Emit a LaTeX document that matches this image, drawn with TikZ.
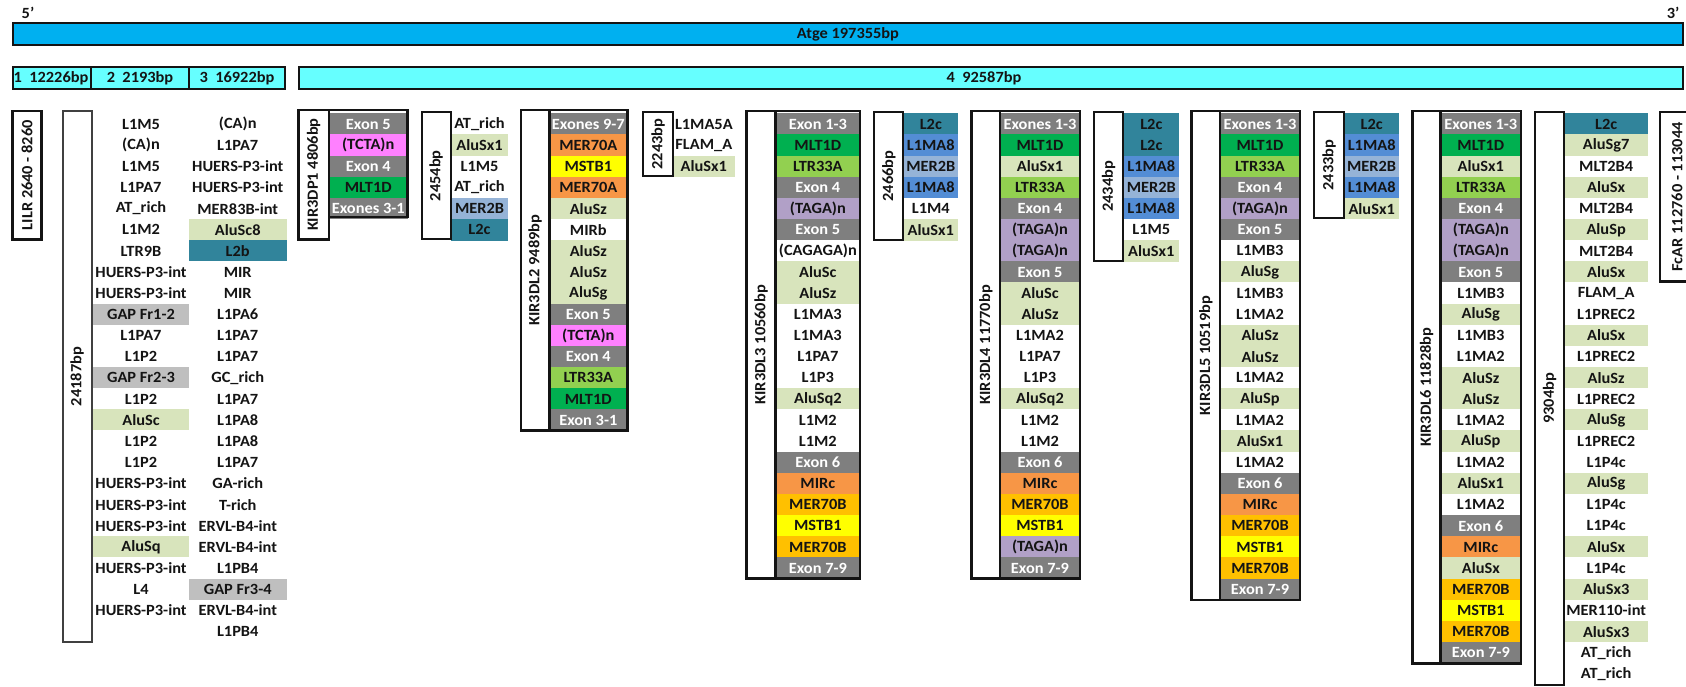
\documentclass[tikz,border=0pt]{standalone}
\usepackage{fontspec}
\setmainfont{Carlito}[FakeStretch=1.05]
\definecolor{exg}{HTML}{7F7F7F}
\definecolor{alug}{HTML}{D8E4BC}
\definecolor{mltg}{HTML}{00B050}
\definecolor{ltrg}{HTML}{92D050}
\definecolor{taga}{HTML}{B1A0C7}
\definecolor{tcta}{HTML}{FF80FF}
\definecolor{orng}{HTML}{F79646}
\definecolor{gold}{HTML}{FFC000}
\definecolor{yelw}{HTML}{FFFF00}
\definecolor{ltbl}{HTML}{95B3D7}
\definecolor{blue8}{HTML}{538DD5}
\definecolor{teal2}{HTML}{31849B}
\definecolor{gapg}{HTML}{BFBFBF}
\definecolor{topblue}{HTML}{00B0F0}
\definecolor{cyanbar}{HTML}{66FFFF}
\definecolor{ink}{HTML}{141414}
\tikzset{
  lbl/.style={font=\fontsize{7.8}{9.5}\selectfont\bfseries, inner sep=0pt, text=ink},
  cell/.style={lbl, minimum width=#1pt, minimum height=10.8pt},
  ex/.style={fill=exg, text=white},
  w/.style={fill=white},
  g/.style={fill=alug},
  m1/.style={fill=mltg},
  lt/.style={fill=ltrg},
  tg/.style={fill=taga},
  pk/.style={fill=tcta},
  or/.style={fill=orng},
  yo/.style={fill=gold},
  ye/.style={fill=yelw},
  lb/.style={fill=ltbl},
  bl/.style={fill=blue8},
  tl/.style={fill=teal2},
  gp/.style={fill=gapg},
  heavy/.style={draw=ink, line width=1.3pt},
  medium/.style={draw=ink, line width=1pt},
  barline/.style={draw=ink, line width=1pt},
}
\newcommand\cellcol[4]{%
  \pgfmathsetmacro\cw{(#3-#2)*0.5}%
  \pgfmathsetmacro\cx{(#2+#3)/2}%
  \foreach \t/\s [count=\i] in {#4}{%
    \node[cell=\cw, \s] (#1-\i) at (\cx,{124+(\i-1)*21.15}) {\t};
  }}
\newcommand\vlabel[6]{% name, xl, xr, ytop, ybottom, text
  \node[lbl, rotate=90] (#1) at ({(#2+#3)/2},{(#4+#5)/2}) {#6};}
\begin{document}
\begin{tikzpicture}[x=0.5pt,y=-0.5pt]
\useasboundingbox (0,0) rectangle (1686,686);
\fill[white] (0,0) rectangle (1686,686);
% top bars
\node[lbl] (p5) at (28,13) {5\symbol{39}};
\node[lbl] (p3) at (1673,13) {3\symbol{39}};
\draw[barline, fill=topblue] (12.7,22.7) rectangle (1683,45);
\node[lbl] (atge) at (848,34) {Atge 197355bp};
\draw[barline, fill=cyanbar] (12.7,66.7) rectangle (91,89.3);
\draw[barline, fill=cyanbar] (91,66.7) rectangle (189,89.3);
\draw[barline, fill=cyanbar] (189,66.7) rectangle (285,89.3);
\draw[barline, fill=cyanbar] (299,66.7) rectangle (1683,89.3);
\node[lbl] (f1) at (51,78) {1~~12226bp};
\node[lbl] (f2) at (140,78) {2~~2193bp};
\node[lbl] (f3) at (237,78) {3~~16922bp};
\node[lbl] (f4) at (984,78) {4~~92587bp};
% LILR
\draw[heavy] (12.3,111) rectangle (41.7,239.3);
\vlabel{lilr}{12.3}{41.7}{111}{239.3}{LILR 2640 - 8260}
% 24187bp
\cellcol{ca}{93}{189}{L1M5/w, (CA)n/w, L1M5/w, L1PA7/w, AT\_rich/w, L1M2/w, LTR9B/w, HUERS-P3-int/w, HUERS-P3-int/w, GAP Fr1-2/gp, L1PA7/w, L1P2/w, GAP Fr2-3/gp, L1P2/w, AluSc/g, L1P2/w, L1P2/w, HUERS-P3-int/w, HUERS-P3-int/w, HUERS-P3-int/w, AluSq/g, HUERS-P3-int/w, L4/w, HUERS-P3-int/w}
\cellcol{cb}{189}{286.5}{(CA)n/w, L1PA7/w, HUERS-P3-int/w, HUERS-P3-int/w, MER83B-int/w, AluSc8/g, L2b/tl, MIR/w, MIR/w, L1PA6/w, L1PA7/w, L1PA7/w, GC\_rich/w, L1PA7/w, L1PA8/w, L1PA8/w, L1PA7/w, GA-rich/w, T-rich/w, ERVL-B4-int/w, ERVL-B4-int/w, L1PB4/w, GAP Fr3-4/gp, ERVL-B4-int/w, L1PB4/w}
\draw[medium, draw=black!75] (62.7,111) rectangle (91.7,642.3);
\vlabel{b24187}{62.7}{91.7}{111}{642.3}{24187bp}
% KIR3DP1
\cellcol{p1}{329}{407.5}{Exon 5/ex, (TCTA)n/pk, Exon 4/ex, MLT1D/m1, Exones 3-1/ex}
\draw[heavy] (329,110) rectangle (407.5,217);
\draw[heavy] (298.3,110) rectangle (329,239.3);
\vlabel{kp1}{298.3}{329}{110}{239.3}{KIR3DP1 4806bp}
% 2454bp
\cellcol{s1}{450.7}{508.3}{AT\_rich/w, AluSx1/g, L1M5/w, AT\_rich/w, MER2B/lb, L2c/tl}
\draw[medium] (421.7,112) rectangle (450.7,239.3);
\vlabel{b2454}{421.7}{450.7}{112}{239.3}{2454bp}
% KIR3DL2
\cellcol{l2}{549.3}{627.3}{Exones 9-7/ex, MER70A/or, MSTB1/ye, MER70A/or, AluSz/g, MIRb/w, AluSz/g, AluSz/g, AluSg/g, Exon 5/ex, (TCTA)n/pk, Exon 4/ex, LTR33A/lt, MLT1D/m1, Exon 3-1/ex}
\draw[heavy] (521,110) rectangle (627.3,430.5);
\draw[heavy] (549.3,110) -- (549.3,430.5);
\vlabel{kl2}{521}{549.3}{110}{430.5}{KIR3DL2 9489bp}
% 2243bp
\cellcol{s2}{672.7}{735}{L1MA5A/w, FLAM\_A/w, AluSx1/g}
\draw[medium] (643.3,112) rectangle (672.7,176);
\vlabel{b2243}{643.3}{672.7}{112}{176}{2243bp}
% KIR3DL3
\cellcol{l3}{775.7}{860}{Exon 1-3/ex, MLT1D/m1, LTR33A/lt, Exon 4/ex, (TAGA)n/tg, Exon 5/ex, (CAGAGA)n/w, AluSc/g, AluSz/g, L1MA3/w, L1MA3/w, L1PA7/w, L1P3/w, AluSq2/g, L1M2/w, L1M2/w, Exon 6/ex, MIRc/or, MER70B/yo, MSTB1/ye, MER70B/yo, Exon 7-9/ex}
\draw[heavy] (746.7,111) rectangle (860,578.5);
\draw[heavy] (775.7,111) -- (775.7,578.5);
\vlabel{kl3}{746.7}{775.7}{111}{578.5}{KIR3DL3 10560bp}
% 2466bp
\cellcol{s3}{903.3}{958.3}{L2c/tl, L1MA8/bl, MER2B/lb, L1MA8/bl, L1M4/w, AluSx1/g}
\draw[medium] (874.3,112) rectangle (903.3,240);
\vlabel{b2466}{874.3}{903.3}{112}{240}{2466bp}
% KIR3DL4
\cellcol{l4}{1000}{1080}{Exones 1-3/ex, MLT1D/m1, AluSx1/g, LTR33A/lt, Exon 4/ex, (TAGA)n/tg, (TAGA)n/tg, Exon 5/ex, AluSc/g, AluSz/g, L1MA2/w, L1PA7/w, L1P3/w, AluSq2/g, L1M2/w, L1M2/w, Exon 6/ex, MIRc/or, MER70B/yo, MSTB1/ye, (TAGA)n/tg, Exon 7-9/ex}
\draw[heavy] (971.7,111) rectangle (1080,578.5);
\draw[heavy] (1000,111) -- (1000,578.5);
\vlabel{kl4}{971.7}{1000}{111}{578.5}{KIR3DL4 11770bp}
% 2434bp
\cellcol{s4}{1123.3}{1179.3}{L2c/tl, L2c/tl, L1MA8/bl, MER2B/lb, L1MA8/bl, L1M5/w, AluSx1/g}
\draw[medium] (1094,112) rectangle (1123.3,260.5);
\vlabel{b2434}{1094}{1123.3}{112}{260.5}{2434bp}
% KIR3DL5
\cellcol{l5}{1220}{1300}{Exones 1-3/ex, MLT1D/m1, LTR33A/lt, Exon 4/ex, (TAGA)n/tg, Exon 5/ex, L1MB3/w, AluSg/g, L1MB3/w, L1MA2/w, AluSz/g, AluSz/g, L1MA2/w, AluSp/g, L1MA2/w, AluSx1/g, L1MA2/w, Exon 6/ex, MIRc/or, MER70B/yo, MSTB1/ye, MER70B/yo, Exon 7-9/ex}
\draw[heavy] (1191.7,111) rectangle (1300,600);
\draw[heavy] (1220,111) -- (1220,600);
\vlabel{kl5}{1191.7}{1220}{111}{600}{KIR3DL5 10519bp}
% 2433bp
\cellcol{s5}{1344}{1399.3}{L2c/tl, L1MA8/bl, MER2B/lb, L1MA8/bl, AluSx1/g}
\draw[medium] (1314.3,112) rectangle (1344,218);
\vlabel{b2433}{1314.3}{1344}{112}{218}{2433bp}
% KIR3DL6
\cellcol{l6}{1440.7}{1521}{Exones 1-3/ex, MLT1D/m1, AluSx1/g, LTR33A/lt, Exon 4/ex, (TAGA)n/tg, (TAGA)n/tg, Exon 5/ex, L1MB3/w, AluSg/g, L1MB3/w, L1MA2/w, AluSz/g, AluSz/g, L1MA2/w, AluSp/g, L1MA2/w, AluSx1/g, L1MA2/w, Exon 6/ex, MIRc/or, AluSx/g, MER70B/yo, MSTB1/ye, MER70B/yo, Exon 7-9/ex}
\draw[heavy] (1412.7,111) rectangle (1521,663.5);
\draw[heavy] (1440.7,111) -- (1440.7,663.5);
\vlabel{kl6}{1412.7}{1440.7}{111}{663.5}{KIR3DL6 11828bp}
% 9304bp
\cellcol{s6}{1564}{1648.3}{L2c/tl, AluSg7/g, MLT2B4/w, AluSx/g, MLT2B4/w, AluSp/g, MLT2B4/w, AluSx/g, FLAM\_A/w, L1PREC2/w, AluSx/g, L1PREC2/w, AluSz/g, L1PREC2/w, AluSg/g, L1PREC2/w, L1P4c/w, AluSg/g, L1P4c/w, L1P4c/w, AluSx/g, L1P4c/w, AluSx3/g, MER110-int/w, AluSx3/g, AT\_rich/w, AT\_rich/w}
\draw[medium] (1535,112) rectangle (1564,685);
\vlabel{b9304}{1535}{1564}{112}{685}{9304bp}
% FcAR
\draw[heavy] (1660,112) rectangle (1694,281.7);
\vlabel{fcar}{1660}{1694}{112}{281.7}{FcAR 112760 - 113044}
\end{tikzpicture}
\end{document}
